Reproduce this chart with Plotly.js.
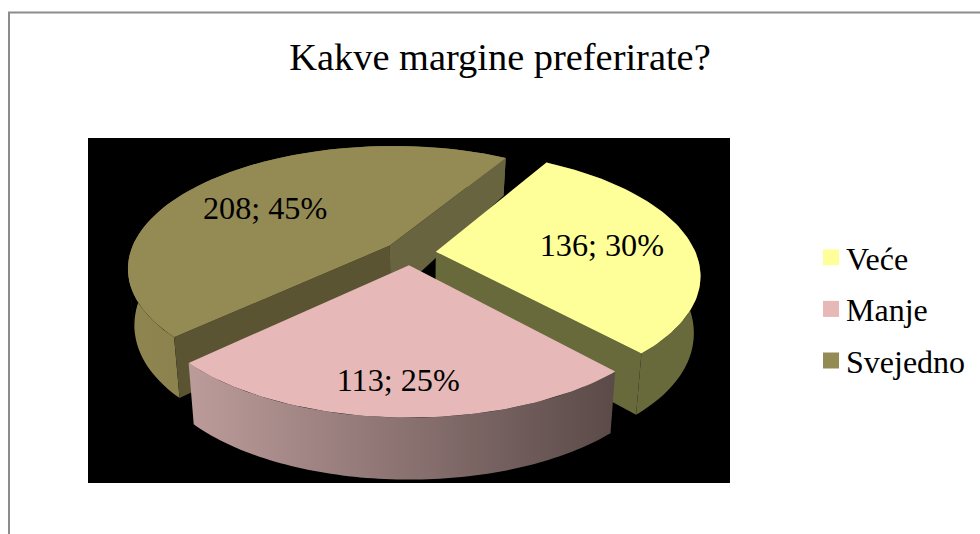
<!DOCTYPE html>
<html>
<head>
<meta charset="utf-8">
<script src="https://cdn.plot.ly/plotly-3.0.1.min.js"></script>
<style>html,body{margin:0;padding:0;background:#fff}#chart{width:980px;height:534px}</style>
</head>
<body>
<div id="chart"></div>
<script>
var categories = ["Veće", "Manje", "Svejedno"];
var values = [136, 113, 208];
var percents = [30, 25, 45];
var topColors = ["#FFFF99", "#E6B8B7", "#948A54"];
var startAngle = 30.5, explode = 0.1;
var CX = 410, CY = 253, A = 260, B = 120, K = 0.18, LEAN = 0.977, HMAX = 62;
var labelRadius = [0.645, 0.805, 0.603];
var labelTurn = [3, 0.3, -7.5];
var total = values.reduce(function (a, b) { return a + b; }, 0);

function project(u, v, bottom) {
  var s = 1 / (1 - K * v);
  var x = A * u * s, y = B * v * s;
  if (bottom) {
    x *= LEAN;
    y += HMAX * (1 - 0.095 * Math.pow(v - 1.1, 2));
  }
  return [CX + x, CY + y];
}
function rad(d) { return d * Math.PI / 180; }
function planePoint(theta, r, mid) {
  return [r * Math.sin(rad(theta)) + explode * Math.sin(rad(mid)),
          -r * Math.cos(rad(theta)) - explode * Math.cos(rad(mid))];
}
function arc(a0, a1, mid, bottom) {
  var pts = [], n = 80;
  for (var i = 0; i <= n; i++) {
    var p = planePoint(a0 + (a1 - a0) * i / n, 1, mid);
    pts.push(project(p[0], p[1], bottom));
  }
  return pts;
}
function poly(pts, opts) {
  var t = {
    type: "scatter", mode: "lines", hoverinfo: "skip", showlegend: false,
    x: pts.map(function (p) { return p ? p[0] : null; }),
    y: pts.map(function (p) { return p ? p[1] : null; }),
    fill: "toself", line: { width: 0 }
  };
  for (var k in opts) t[k] = opts[k];
  return t;
}
function grad(c0, c1) {
  return { type: "horizontal", colorscale: [[0, c0], [1, c1]] };
}
// The rim is a run of narrow quads, so its silhouette follows the tangents between top and bottom arcs.
function rimQuads(top, bot) {
  var pts = [];
  for (var i = 0; i < top.length - 1; i++) {
    pts.push(top[i], top[i + 1], bot[i + 1], bot[i], top[i], null);
  }
  pts.pop();
  return pts;
}

var wallStyles = [
  { start: null, end: "#686A3C", outer: { fillcolor: "#686A3C" } },
  { start: null, end: null, outer: { fillcolor: "#8A7070", fillgradient: grad("#BC9C9B", "#5A4A48") } },
  { start: "#5A5432", end: "#686440", outer: { fillcolor: "#857D4C", fillgradient: grad("#8E8550", "#77703F") } }
];

var slices = [], ang = startAngle;
values.forEach(function (val, i) {
  var sw = val / total * 360;
  slices.push({ i: i, a0: ang, a1: ang + sw, mid: ang + sw / 2 });
  ang += sw;
});

var traces = [];
[2, 0, 1].forEach(function (i) {
  var s = slices[i], st = wallStyles[i];
  var apex = planePoint(0, 0, s.mid);
  var aT = project(apex[0], apex[1], false), aB = project(apex[0], apex[1], true);
  var c0 = planePoint(s.a0, 1, s.mid), c1 = planePoint(s.a1, 1, s.mid);
  var rimTop = arc(s.a0, s.a1, s.mid, false), rimBot = arc(s.a0, s.a1, s.mid, true);
  traces.push(poly(rimQuads(rimTop, rimBot), st.outer));
  if (st.end) traces.push(poly([aT, project(c1[0], c1[1], false), project(c1[0], c1[1], true), aB], { fillcolor: st.end }));
  if (st.start) traces.push(poly([aT, project(c0[0], c0[1], false), project(c0[0], c0[1], true), aB], { fillcolor: st.start }));
  traces.push(poly([aT].concat(arc(s.a0, s.a1, s.mid, false)), { fillcolor: topColors[i], name: categories[i] }));
});

var lab = slices.map(function (s) {
  var p = planePoint(s.mid + labelTurn[s.i], labelRadius[s.i], s.mid);
  return project(p[0], p[1], false);
});
traces.push({
  type: "scatter", mode: "text", hoverinfo: "skip", showlegend: false,
  x: lab.map(function (p) { return p[0]; }),
  y: lab.map(function (p) { return p[1]; }),
  text: values.map(function (v, i) { return v + "; " + percents[i] + "%"; }),
  textposition: "middle center",
  textfont: { family: "Liberation Serif", size: 32.2, color: "#000" }
});

categories.forEach(function (c, i) {
  traces.push({
    type: "scatter", mode: "markers", x: [null], y: [null], name: c, legendgroup: c,
    marker: { symbol: "square", size: 17, color: topColors[i] }
  });
});

var X0 = 88, X1 = 730, Y0 = 138, Y1 = 483;
function px(x) { return (x - X0) / (X1 - X0); }
function py(y) { return (Y1 - y) / (Y1 - Y0); }

var layout = {
  width: 980, height: 534,
  margin: { l: X0, r: 980 - X1, t: Y0, b: 534 - Y1, pad: 0, autoexpand: false },
  paper_bgcolor: "#fff", plot_bgcolor: "#000",
  font: { family: "Liberation Serif", color: "#000" },
  title: { text: "Kakve margine preferirate?", x: 500 / 980, y: 1 - 57 / 534, xanchor: "center", yanchor: "middle",
           font: { family: "Liberation Serif", size: 38.4, color: "#000" } },
  xaxis: { range: [X0, X1], visible: false, fixedrange: true },
  yaxis: { range: [Y1, Y0], visible: false, fixedrange: true },
  showlegend: true,
  legend: { x: px(806), y: py(230), xanchor: "left", yanchor: "top", tracegroupgap: 7, borderwidth: 0,
            bgcolor: "rgba(0,0,0,0)", font: { family: "Liberation Serif", size: 32, color: "#000" } },
  shapes: [
    { type: "line", xref: "paper", yref: "paper", x0: px(9), x1: px(9), y0: py(12), y1: py(534), line: { color: "#8C8C8C", width: 2 } },
    { type: "line", xref: "paper", yref: "paper", x0: px(8), x1: px(980), y0: py(12.5), y1: py(12.5), line: { color: "#8C8C8C", width: 2 } }
  ]
};
Plotly.newPlot("chart", traces, layout, { displayModeBar: false, staticPlot: true }).then(function () {
  document.querySelectorAll("#chart .legendsymbols").forEach(function (n) {
    n.setAttribute("transform", "translate(5,0)");
  });
});
</script>
</body>
</html>
